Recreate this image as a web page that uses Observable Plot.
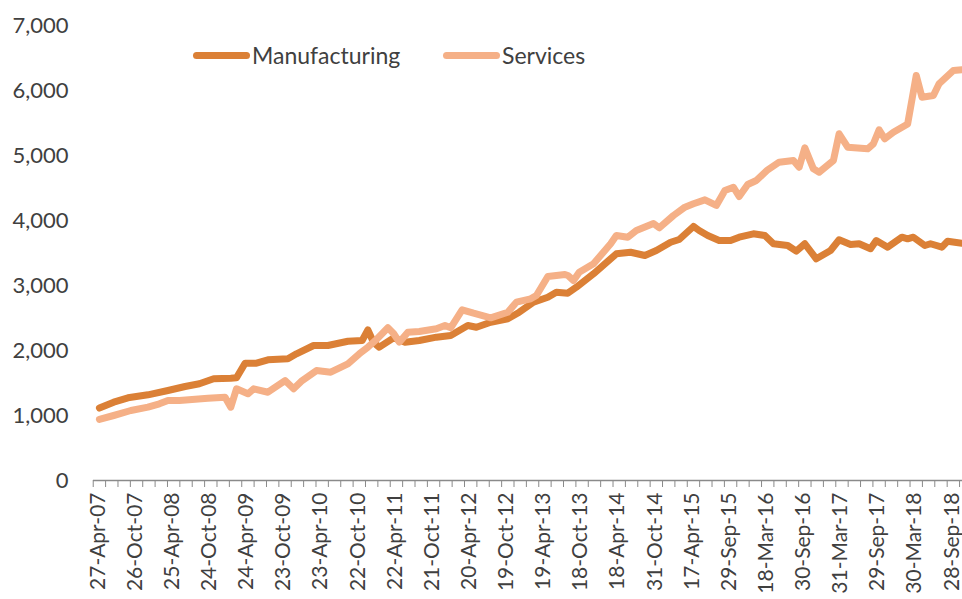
<!DOCTYPE html>
<html>
<head>
<meta charset="utf-8">
<script src="https://cdn.jsdelivr.net/npm/d3@7"></script>
<script src="https://cdn.jsdelivr.net/npm/@observablehq/plot@0.6"></script>
<style>
  html, body { margin: 0; padding: 0; background: #fff; }
  #wrap { position: relative; width: 962px; height: 599px; overflow: hidden; font-family: Lato, "Open Sans", sans-serif; }
  #legend { position: absolute; top: 40px; left: 0; height: 30px; font-size: 23px; color: #404040; }
  .item { position: absolute; top: 0; display: flex; align-items: center; height: 30px; white-space: nowrap; }
  .sw { width: 57px; height: 7px; border-radius: 4px; margin-right: 2px; }
</style>
</head>
<body>
<div id="wrap">
  <div id="chart"></div>
  <div id="legend"></div>
</div>
<script>
// Category labels on the x axis (one label every 13 fortnightly periods)
const labels = ["27-Apr-07","26-Oct-07","25-Apr-08","24-Oct-08","24-Apr-09","23-Oct-09","23-Apr-10","22-Oct-10","22-Apr-11","21-Oct-11","20-Apr-12","19-Oct-12","19-Apr-13","18-Oct-13","18-Apr-14","31-Oct-14","17-Apr-15","29-Sep-15","18-Mar-16","30-Sep-16","31-Mar-17","29-Sep-17","30-Mar-18","28-Sep-18"];
const periodsPerLabel = 13;

// Series names
const seriesNames = ["Manufacturing", "Services"];

// Manufacturing: period index and value
const mfgPeriod = [0,5,10,17,24,30,35,40,46,48,51,55,59,66,69,75,80,87,92,94,96,98,103,107,112,118,123,129,132,137,143,147,152,157,160,164,167,173,181,186,191,195,200,203,208,210,213,217,221,224,229,233,236,241,244,247,251,256,259,263,266,270,272,276,281,283,285,289,291,295,297,302];
const mfgValue = [1115,1205,1272,1318,1385,1446,1488,1565,1574,1580,1805,1805,1857,1872,1949,2077,2077,2143,2154,2318,2123,2051,2195,2128,2154,2205,2231,2385,2358,2435,2488,2589,2743,2820,2897,2882,2974,3180,3488,3512,3462,3538,3666,3708,3908,3846,3769,3692,3692,3743,3795,3769,3642,3615,3528,3642,3411,3538,3703,3631,3642,3565,3692,3589,3743,3718,3743,3615,3642,3589,3682,3651];

// Services: period index and value
const svcPeriod = [0,5,11,17,21,24,28,38,44,46,48,52,54,59,65,68,71,76,81,87,91,94,97,101,103,105,108,112,118,121,123,127,131,137,143,146,151,153,157,163,164,166,168,173,179,181,185,188,194,196,201,205,208,212,216,219,222,224,227,230,234,238,243,245,247,250,252,257,259,262,269,271,273,275,278,283,286,288,292,294,299,302];
const svcValue = [940,1000,1077,1128,1180,1231,1231,1266,1282,1128,1411,1334,1411,1358,1538,1411,1538,1692,1666,1795,1949,2051,2169,2349,2262,2128,2282,2292,2334,2385,2349,2626,2574,2503,2589,2743,2795,2846,3138,3169,3154,3077,3205,3334,3642,3769,3743,3846,3954,3888,4077,4205,4257,4318,4231,4462,4512,4369,4554,4615,4780,4897,4923,4820,5118,4795,4743,4923,5334,5128,5103,5180,5395,5257,5358,5485,6231,5897,5923,6103,6308,6318];

// Y axis ticks
const yTicks = [0,1000,2000,3000,4000,5000,6000,7000];

const colors = ["#DB8036", "#F5B087"];

const rows = [
  ...mfgPeriod.map((p, i) => ({series: seriesNames[0], period: p, value: mfgValue[i]})),
  ...svcPeriod.map((p, i) => ({series: seriesNames[1], period: p, value: svcValue[i]}))
];

const labelTicks = labels.map((_, k) => k * periodsPerLabel);
const minorTicks = d3.range(0, 71).map(k => -periodsPerLabel / 6 + k * periodsPerLabel / 3);
const xDomain = [-2.07, 302.2];

const chart = Plot.plot({
  width: 962,
  height: 599,
  marginLeft: 93,
  marginRight: 0,
  marginTop: 25,
  marginBottom: 119,
  style: {fontFamily: "Lato, 'Open Sans', sans-serif", color: "#404040", background: "#fff", overflow: "hidden"},
  x: {domain: xDomain},
  y: {domain: [0, 7000]},
  color: {domain: seriesNames, range: colors},
  marks: [
    Plot.axisY({ticks: yTicks, tickFormat: d3.format(","), tickSize: 0, tickPadding: 25, fontSize: 22, label: null, fill: "#404040"}),
    Plot.axisX({ticks: minorTicks, tickFormat: () => "", tickSize: 7, stroke: "#8a8a8a", label: null}),
    Plot.axisX({ticks: labelTicks, tickFormat: d => labels[Math.round(d / periodsPerLabel)], tickSize: 0, tickRotate: -90, tickPadding: 12, fontSize: 21, dx: -1.5, label: null, fill: "#404040"}),
    Plot.ruleY([0], {stroke: "#8a8a8a", strokeWidth: 1.3}),
    Plot.line(rows, {x: "period", y: "value", z: "series", stroke: "series", strokeWidth: 7, strokeLinejoin: "round", strokeLinecap: "round", clip: true})
  ]
});
document.getElementById("chart").appendChild(chart);

// Legend
const legend = document.getElementById("legend");
const legendLeft = [193, 443];
seriesNames.forEach((name, i) => {
  const item = document.createElement("div");
  item.className = "item";
  item.style.left = legendLeft[i] + "px";
  const sw = document.createElement("div");
  sw.className = "sw";
  sw.style.background = colors[i];
  const t = document.createElement("span");
  t.textContent = name;
  item.appendChild(sw);
  item.appendChild(t);
  legend.appendChild(item);
});
</script>
</body>
</html>
